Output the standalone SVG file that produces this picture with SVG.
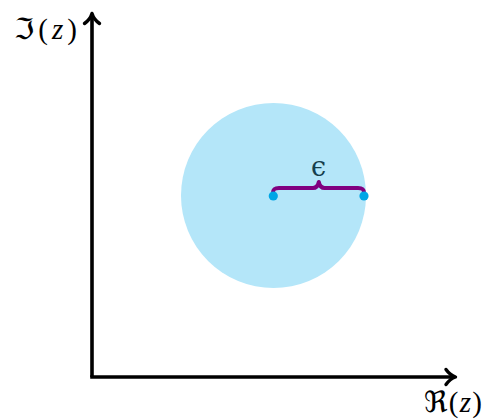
<svg xmlns="http://www.w3.org/2000/svg" width="490" height="419" viewBox="0 0 490 419">
  <style>
    .axis { stroke: #000; stroke-width: 3.6; fill: none; }
    .head { stroke: #000; stroke-width: 3.4; fill: none; stroke-linecap: round; stroke-linejoin: round; }
    .lbl { font-family: "Liberation Serif", "DejaVu Serif", serif; font-size: 29px; fill: #000; }
    .frak { font-family: "DejaVu Serif", "DejaVu Sans", serif; }
    .it { font-style: italic; }
    .eps { font-family: "DejaVu Serif", serif; font-size: 27px; fill: #153f4d; }
  </style>
  <rect width="490" height="419" fill="#fff"/>
  <g id="region">
    <circle cx="273.5" cy="195.5" r="92.5" fill="#b4e6f9"/>
  </g>
  <g id="connectors">
    <path class="axis" d="M92,377 V15"/>
    <path class="axis" d="M90.2,377 H453"/>
    <path class="head" d="M84.5,23.5 C88,21 91,17 92,13.5 C93,17 96,21 99.5,23.5"/>
    <path class="head" d="M446,369.5 C448.5,373 452.5,376 455.5,377 C452.5,378 448.5,381 446,384.5"/>
    <path d="M273,193 C273,189 275,188 279,188 H313 C316,188 318,186 318.8,182 C319.6,186 321.6,188 324.6,188 H358 C362,188 364,189 364,193" fill="none" stroke="#800080" stroke-width="4" stroke-linejoin="round"/>
  </g>
  <g id="points">
    <circle cx="273.3" cy="196" r="4.6" fill="#00a6e6"/>
    <circle cx="364" cy="196" r="4.6" fill="#00a6e6"/>
  </g>
  <g id="labels">
    <text class="eps" x="318.5" y="176" text-anchor="middle">ϵ</text>
    <text class="lbl" x="14" y="39" textLength="63" lengthAdjust="spacing"><tspan class="frak">ℑ</tspan>(<tspan class="it">z</tspan>)</text>
    <text class="lbl" x="424" y="412" textLength="58" lengthAdjust="spacing"><tspan class="frak">ℜ</tspan>(<tspan class="it">z</tspan>)</text>
  </g>
</svg>
